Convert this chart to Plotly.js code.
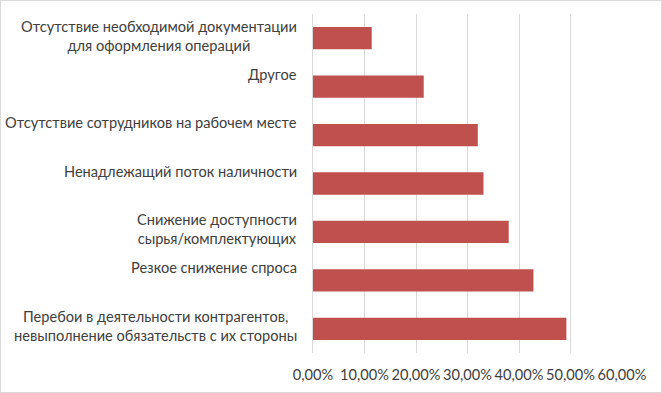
<!DOCTYPE html>
<html><head><meta charset="utf-8">
<script src="https://cdn.plot.ly/plotly-3.0.1.min.js"></script>
<style>html,body{margin:0;padding:0;background:#fff}#chart{width:662px;height:393px;box-sizing:border-box;border:1px solid #d9d9d9}</style>
</head><body><div id="chart"></div>
<script>
const categories = [
  "Отсутствие необходимой документации<br>для оформления операций",
  "Другое",
  "Отсутствие сотрудников на рабочем месте",
  "Ненадлежащий поток наличности",
  "Снижение доступности<br>сырья/комплектующих",
  "Резкое снижение спроса",
  "Перебои в деятельности контрагентов,<br>невыполнение обязательств с их стороны"
];
const values = [0.114, 0.215, 0.320, 0.331, 0.380, 0.428, 0.492];
const xTicks = [0, 0.1, 0.2, 0.3, 0.4, 0.5, 0.6];

const FONT = "Lato, 'Open Sans', sans-serif";
const ids = categories.map((c, i) => "c" + i);

const annotations = categories.map((c, i) => {
  const lines = c.split("<br>").length;
  return {
    x: 0, y: ids[i], xref: "x", yref: "y",
    text: c, showarrow: false, xanchor: "right", yanchor: "middle",
    align: "center", xshift: -14, yshift: 2.5 + (2 - lines) * 10,
    font: {family: FONT, size: 14.6, color: "#404040"}
  };
});

const trace = {
  type: "bar", orientation: "h",
  y: ids, x: values,
  marker: {color: "#c0504d", line: {width: 0}},
  hoverinfo: "skip"
};

const layout = {
  width: 660, height: 391,
  margin: {l: 312, r: 39, t: 13, b: 39},
  paper_bgcolor: "#fff", plot_bgcolor: "#fff",
  separators: ", ",
  showlegend: false,
  bargap: 0.54,
  xaxis: {
    range: [0, 0.6], tickvals: xTicks, tickformat: ".2%",
    showgrid: true, gridcolor: "#d9d9d9", gridwidth: 1,
    zeroline: false, showline: false, ticks: "",
    ticklabelstandoff: 11,
    tickfont: {family: FONT, size: 14.6, color: "#404040"}
  },
  yaxis: {
    type: "category", autorange: "reversed", showticklabels: false,
    showgrid: false, zeroline: false, ticks: "",
    showline: true, linecolor: "#d9d9d9", linewidth: 1
  },
  annotations: annotations
};

Plotly.newPlot("chart", [trace], layout, {displayModeBar: false, staticPlot: true});
</script></body></html>
